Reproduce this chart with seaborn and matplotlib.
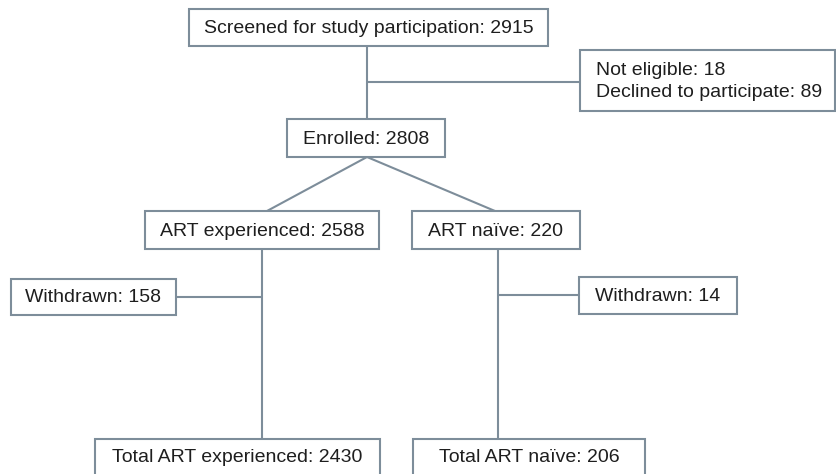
import matplotlib.pyplot as plt
import seaborn as sns
from matplotlib.patches import Rectangle

# flow counts
stage_labels = ["Screened for study participation", "Enrolled",
                "ART experienced", "ART naïve",
                "Total ART experienced", "Total ART naïve"]
stage_counts = [2915, 2808, 2588, 220, 2430, 206]
excluded_labels = ["Not eligible", "Declined to participate"]
excluded_counts = [18, 89]
withdrawn_labels = ["Withdrawn", "Withdrawn"]
withdrawn_counts = [158, 14]

# layout in pixel units (x0, y0, x1, y1), y downwards
stage_boxes = [(189, 9, 548, 46), (287, 119, 445, 157),
               (145, 211, 379, 249), (412, 211, 580, 249),
               (95, 439, 380, 490), (413, 439, 645, 490)]
excluded_box = (580, 50, 835, 111)
withdrawn_boxes = [(11, 279, 176, 315), (579, 277, 737, 314)]

EDGE = "#7d8d9a"
TEXT = "#1e1e1e"
LW = 1.5

sns.set_theme(style="white")
plt.rcParams['font.family'] = ['Liberation Sans', 'DejaVu Sans']

fig = plt.figure(figsize=(8.37, 4.74), dpi=100)
ax = fig.add_axes([0, 0, 1, 1])
ax.set_xlim(0, 837)
ax.set_ylim(474, 0)
ax.axis("off")


def box(b):
    x0, y0, x1, y1 = b
    ax.add_patch(Rectangle((x0, y0), x1 - x0, y1 - y0, facecolor="white",
                           edgecolor=EDGE, linewidth=LW, zorder=3))


def line(xs, ys):
    ax.plot(xs, ys, color=EDGE, linewidth=LW, zorder=1, solid_capstyle="butt")


# connectors
line([367, 367], [46, 119])
line([367, 580], [82, 82])
line([367, 267], [157, 211])
line([367, 495], [157, 211])
line([262, 262], [249, 439])
line([176, 262], [297, 297])
line([498, 498], [249, 439])
line([498, 579], [295, 295])

fs = 14
for lab, n, b in zip(stage_labels, stage_counts, stage_boxes):
    box(b)
    x0, y0, x1, y1 = b
    yc = (y0 + y1) / 2 if y1 < 474 else y0 + 18
    ax.text((x0 + x1) / 2, yc + 1, f"{lab}: {n}", ha="center", va="center",
            fontsize=fs, color=TEXT, zorder=4)

box(excluded_box)
ax.text(596, (excluded_box[1] + excluded_box[3]) / 2 + 1,
        "\n".join(f"{l}: {n}" for l, n in zip(excluded_labels, excluded_counts)),
        ha="left", va="center", fontsize=fs, color=TEXT, linespacing=1.4, zorder=4)

for lab, n, b in zip(withdrawn_labels, withdrawn_counts, withdrawn_boxes):
    box(b)
    x0, y0, x1, y1 = b
    ax.text((x0 + x1) / 2, (y0 + y1) / 2 + 1, f"{lab}: {n}", ha="center", va="center",
            fontsize=fs, color=TEXT, zorder=4)

fig.savefig("out.png", dpi=100)
